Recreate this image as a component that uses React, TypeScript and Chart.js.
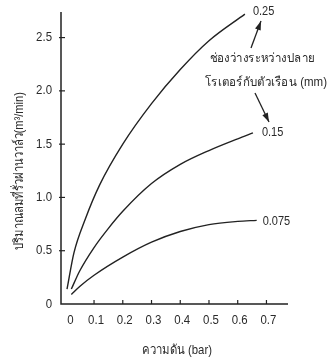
import React, { useEffect, useRef } from "react";
import { Chart, registerables } from "chart.js";

Chart.register(...registerables);

const seriesNames = ["0.25", "0.15", "0.075"];
const x025 = [0.006, 0.03, 0.07, 0.12, 0.2, 0.3, 0.4, 0.5, 0.625];
const y025 = [0.14, 0.48, 0.8, 1.12, 1.5, 1.88, 2.2, 2.47, 2.72];
const x015 = [0.021, 0.05, 0.1, 0.15, 0.2, 0.3, 0.4, 0.5, 0.6, 0.653];
const y015 = [0.14, 0.31, 0.53, 0.71, 0.87, 1.13, 1.31, 1.44, 1.55, 1.605];
const x0075 = [0.021, 0.05, 0.1, 0.2, 0.3, 0.4, 0.5, 0.6, 0.666];
const y0075 = [0.09, 0.165, 0.27, 0.44, 0.58, 0.68, 0.745, 0.775, 0.785];
const xTicks = [0, 0.1, 0.2, 0.3, 0.4, 0.5, 0.6, 0.7];
const yTicks = [0, 0.5, 1.0, 1.5, 2.0, 2.5];
const yTitle = "ปริมาณลมที่รั่วผ่านวาล์ว(m³/min)";
const xTitle = "ความดัน (bar)";
const noteLines = ["ช่องว่างระหว่างปลาย", "โรเตอร์กับตัวเรือน (mm)"];

const FONT = "'Liberation Sans', Arial, sans-serif";
const INK = "#222";
const TXT = "#2a2a2a";

function pts(xs: number[], ys: number[]) {
  return xs.map((x, i) => ({ x, y: ys[i] }));
}

function fmt(v: number) {
  return v === 0 ? "0" : v.toFixed(1);
}

function drawText(
  ctx: CanvasRenderingContext2D,
  text: string,
  x: number,
  y: number,
  opts: { width?: number; sx?: number; align?: CanvasTextAlign; rotate?: number }
) {
  ctx.save();
  ctx.translate(x, y);
  if (opts.rotate) ctx.rotate(opts.rotate);
  const w = ctx.measureText(text).width;
  const sx = opts.width ? opts.width / w : opts.sx || 1;
  ctx.scale(sx, 1);
  ctx.textAlign = opts.align || "center";
  ctx.fillText(text, 0, 0);
  ctx.restore();
}

function arrow(ctx: CanvasRenderingContext2D, x1: number, y1: number, x2: number, y2: number) {
  ctx.beginPath();
  ctx.moveTo(x1, y1);
  ctx.lineTo(x2, y2);
  ctx.stroke();
  const a = Math.atan2(y2 - y1, x2 - x1);
  const L = 9, W = 3;
  ctx.beginPath();
  ctx.moveTo(x2, y2);
  ctx.lineTo(x2 - L * Math.cos(a) + W * Math.sin(a), y2 - L * Math.sin(a) - W * Math.cos(a));
  ctx.lineTo(x2 - L * Math.cos(a) - W * Math.sin(a), y2 - L * Math.sin(a) + W * Math.cos(a));
  ctx.closePath();
  ctx.fill();
}

const decor = {
  id: "decor",
  afterDraw(chart: any) {
    const ctx = chart.ctx as CanvasRenderingContext2D;
    const xs = chart.scales.x;
    const ys = chart.scales.y;
    const ca = chart.chartArea;
    ctx.save();
    ctx.strokeStyle = INK;
    ctx.fillStyle = TXT;
    ctx.lineWidth = 1.5;
    ctx.beginPath();
    ctx.moveTo(ca.left, ca.top);
    ctx.lineTo(ca.left, ca.bottom);
    ctx.lineTo(ca.right, ca.bottom);
    ctx.stroke();
    ctx.lineWidth = 1.2;
    ctx.textBaseline = "middle";
    ctx.font = "13px " + FONT;
    xTicks.forEach((v) => {
      const px = xs.getPixelForValue(v);
      if (v !== 0) {
        ctx.beginPath();
        ctx.moveTo(px, ca.bottom);
        ctx.lineTo(px, ca.bottom - 4);
        ctx.stroke();
      }
      drawText(ctx, fmt(v), px + (v === 0 ? 5 : 2), ca.bottom + 16, { sx: 0.88 });
    });
    yTicks.forEach((v) => {
      const py = ys.getPixelForValue(v);
      if (v !== 0) {
        ctx.beginPath();
        ctx.moveTo(ca.left - 2, py);
        ctx.lineTo(ca.left + 4, py);
        ctx.stroke();
      }
      drawText(ctx, fmt(v), ca.left - 9, py, { sx: 0.88, align: "right" });
    });
    ctx.font = "12.5px " + FONT;
    const offs = [
      [8, -3],
      [9, 0],
      [6, 1],
    ];
    const sets = [
      [x025, y025],
      [x015, y015],
      [x0075, y0075],
    ];
    sets.forEach((s, i) => {
      const xsArr = s[0];
      const ysArr = s[1];
      const px = xs.getPixelForValue(xsArr[xsArr.length - 1]);
      const py = ys.getPixelForValue(ysArr[ysArr.length - 1]);
      drawText(ctx, seriesNames[i], px + offs[i][0], py + offs[i][1], { sx: 0.88, align: "left" });
    });
    ctx.font = "12.5px " + FONT;
    drawText(ctx, noteLines[0], 262, 59, { sx: 0.92 });
    drawText(ctx, noteLines[1], 266, 83, { sx: 0.92 });
    ctx.fillStyle = INK;
    ctx.lineWidth = 1.3;
    arrow(ctx, 251, 48, 261, 21);
    arrow(ctx, 255, 93, 269, 122);
    ctx.fillStyle = TXT;
    ctx.font = "13px " + FONT;
    drawText(ctx, xTitle, 177, 350, { width: 70 });
    drawText(ctx, yTitle, 19, 171, { width: 158, rotate: -Math.PI / 2 });
    ctx.restore();
  },
};

export default function App() {
  const ref = useRef<HTMLCanvasElement>(null);
  useEffect(() => {
    document.body.style.margin = "0";
    const line = (data: any) => ({
      data,
      showLine: true,
      borderColor: INK,
      borderWidth: 1.4,
      pointRadius: 0,
      cubicInterpolationMode: "monotone",
      fill: false,
    });
    const chart = new Chart(ref.current!, {
      type: "scatter",
      data: {
        datasets: [line(pts(x025, y025)), line(pts(x015, y015)), line(pts(x0075, y0075))] as any,
      },
      options: {
        animation: false,
        responsive: false,
        layout: { padding: { left: 0, top: 12, right: 47, bottom: 0 } },
        plugins: { legend: { display: false }, tooltip: { enabled: false } },
        scales: {
          x: {
            type: "linear",
            min: -0.015,
            max: 0.775,
            afterFit: (s: any) => { s.height = 56; },
            afterBuildTicks: (s: any) => { s.ticks = xTicks.map((v) => ({ value: v })); },
            grid: { display: false },
            border: { display: false },
            ticks: { display: false },
          },
          y: {
            type: "linear",
            min: 0,
            max: 2.74,
            afterFit: (s: any) => { s.width = 61; },
            afterBuildTicks: (s: any) => { s.ticks = yTicks.map((v) => ({ value: v })); },
            grid: { display: false },
            border: { display: false },
            ticks: { display: false },
          },
        },
      },
      plugins: [decor],
    });
    return () => chart.destroy();
  }, []);
  return <canvas ref={ref} width={335} height={360} style={{ display: "block" }} />;
}
